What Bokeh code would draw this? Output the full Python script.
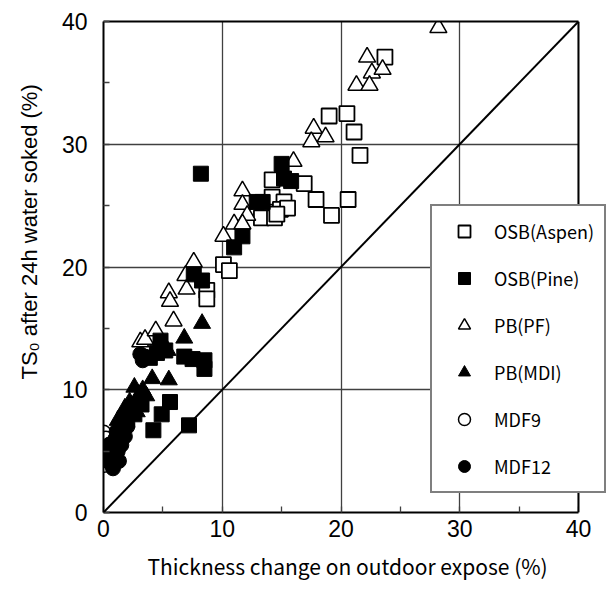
import math
from bokeh.plotting import figure
from bokeh.models import (Legend, LegendItem, SingleIntervalTicker, Range1d,
                          Slope, Span, BoxAnnotation, LinearAxis, FixedTicker, Title)
from bokeh.embed import file_html
from bokeh.resources import INLINE

# ---- data ----
osb_aspen_x = [23.7, 19.0, 20.5, 21.1, 21.6, 16.9, 17.9, 19.2, 20.6, 14.2, 14.2,
               15.2, 13.3, 14.4, 14.9, 10.1, 10.6, 8.7, 8.7, 15.5, 14.6]
osb_aspen_y = [37.1, 32.3, 32.5, 31.0, 29.1, 26.8, 25.5, 24.2, 25.5, 27.1, 25.7,
               25.3, 24.0, 24.0, 24.7, 20.2, 19.7, 18.1, 17.4, 24.8, 24.3]

osb_pine_x = [8.2, 15.0, 15.2, 15.8, 12.9, 13.4, 11.7, 11.0, 7.6, 8.3, 4.8, 5.2,
              6.8, 7.5, 8.5, 8.5, 5.6, 4.9, 4.2, 7.2, 3.9, 4.5, 2.0, 2.6, 3.2, 1.5]
osb_pine_y = [27.6, 28.4, 27.2, 27.0, 25.3, 25.3, 22.5, 21.6, 19.4, 18.9, 14.0, 13.2,
              12.7, 12.5, 12.4, 11.7, 9.0, 8.0, 6.7, 7.1, 12.6, 13.0, 7.5, 8.0, 8.8, 6.5]

pb_pf_x = [28.2, 22.2, 22.6, 23.5, 21.3, 22.4, 17.7, 18.7, 17.5, 16.0, 11.7, 11.7,
           12.1, 11.0, 11.7, 10.1, 7.6, 6.9, 7.0, 5.5, 5.6, 5.9, 3.1, 3.5, 4.4]
pb_pf_y = [39.5, 37.1, 35.8, 36.1, 34.8, 34.8, 31.3, 30.6, 30.2, 28.6, 26.2, 25.1,
           24.2, 23.5, 23.5, 22.5, 20.4, 19.3, 18.2, 17.9, 17.2, 15.6, 13.9, 14.1, 14.8]

pb_mdi_x = [2.6, 4.1, 5.5, 6.8, 8.3, 5.4, 1.8, 2.2, 3.0, 1.2, 2.8, 3.6, 1.5, 3.3]
pb_mdi_y = [10.2, 10.9, 10.8, 14.2, 15.4, 13.2, 8.5, 9.0, 9.6, 7.5, 8.2, 9.5, 6.8, 10.0]

mdf9_x = [0.0, 0.2, 0.0, 0.3, 0.1, 0.5]
mdf9_y = [6.5, 6.0, 5.1, 4.3, 3.9, 5.5]

mdf12_x = [0.6, 0.9, 1.2, 0.5, 1.0, 1.5, 0.8, 1.3, 1.8, 0.4, 1.1, 3.1, 3.5, 3.3, 2.0, 1.6]
mdf12_y = [4.0, 4.5, 5.0, 5.5, 6.0, 5.5, 3.6, 4.2, 6.2, 4.6, 6.6, 12.9, 12.7, 12.4, 7.0, 6.8]

series_labels = ["OSB(Aspen)", "OSB(Pine)", "PB(PF)", "PB(MDI)", "MDF9", "MDF12"]
x_title = "Thickness change on outdoor expose (%)"
y_title = "TS\u2080 after 24h water soked (%)"
axis_max = 40

# ---- figure ----
# frame runs to the window edge so the legend can overflow the x=40 border
frame_left, frame_right_40 = 103, 578
x_end = axis_max * (615 - frame_left) / (frame_right_40 - frame_left)
p = figure(width=615, height=590, output_backend="svg", toolbar_location=None,
           x_range=Range1d(0, x_end), y_range=Range1d(0, axis_max),
           min_border_left=frame_left, min_border_right=0,
           min_border_top=21, min_border_bottom=78)
p.background_fill_color = "white"
p.border_fill_color = "white"
p.outline_line_color = None

for ax, grid in ((p.xaxis, p.xgrid), (p.yaxis, p.ygrid)):
    t = SingleIntervalTicker(interval=10, num_minor_ticks=2)
    ax.ticker = t
    grid.ticker = t
    grid.grid_line_color = "#404040"
    grid.grid_line_width = 1.3
    ax.axis_line_color = "black"
    ax.axis_line_width = 2
    ax.major_tick_in = 0
    ax.major_tick_out = 0
    ax.minor_tick_in = 6
    ax.minor_tick_out = 0
    ax.minor_tick_line_color = "#404040"
    ax.minor_tick_line_width = 1.3
    ax.major_label_text_font = "Liberation Sans"
    ax.major_label_text_font_size = "23px"
    ax.major_label_text_color = "black"
    ax.bounds = (0, axis_max)

p.xaxis.major_label_standoff = 7
p.yaxis.major_label_standoff = 16

# top border line of the plot box (0..40 only)
top_axis = LinearAxis(ticker=FixedTicker(ticks=[]), bounds=(0, axis_max),
                      axis_line_color="black", axis_line_width=2,
                      major_tick_in=0, major_tick_out=0,
                      minor_tick_in=0, minor_tick_out=0,
                      major_label_text_font_size="0px", major_label_standoff=0)
p.add_layout(top_axis, "above")

# x axis title, left-anchored under the 0..40 box
p.add_layout(Title(text=x_title, align="left", offset=44,
                   text_font="Noto Sans CJK JP", text_font_size="21px",
                   text_font_style="normal", text_color="black",
                   standoff=19, vertical_align="bottom"), "below")

# y axis title, placed left of the tick labels
p.add_layout(Title(text=y_title, align="left", offset=133,
                   text_font="Liberation Sans", text_font_size="22px",
                   text_font_style="normal", text_color="black",
                   standoff=30, vertical_align="top"), "left")

# blank out everything right of x = 40 (the legend still overlays it)
p.add_layout(BoxAnnotation(left=axis_max, fill_color="white", fill_alpha=1.0,
                           line_color=None))
p.add_layout(Span(location=axis_max, dimension="height", line_color="black",
                  line_width=2))

p.add_layout(Slope(gradient=1, y_intercept=0, line_color="black", line_width=2))

r1 = p.scatter(osb_aspen_x, osb_aspen_y, marker="square", size=15,
               fill_color="white", line_color="black", line_width=1.8)
r3 = p.scatter(pb_pf_x, pb_pf_y, marker="triangle", size=17,
               fill_color="white", line_color="black", line_width=1.5)
r2 = p.scatter(osb_pine_x, osb_pine_y, marker="square", size=15,
               fill_color="black", line_color="black", line_width=1)
r4 = p.scatter(pb_mdi_x, pb_mdi_y, marker="triangle", size=17,
               fill_color="black", line_color="black", line_width=1)
r5 = p.scatter(mdf9_x, mdf9_y, marker="circle", size=15,
               fill_color="white", line_color="black", line_width=1.5)
r6 = p.scatter(mdf12_x, mdf12_y, marker="circle", size=15,
               fill_color="black", line_color="black", line_width=1)

items = [LegendItem(label=lab, renderers=[r])
         for lab, r in zip(series_labels, [r1, r2, r3, r4, r5, r6])]
legend = Legend(items=items, location=(327, 19), margin=0, padding=10,
                glyph_width=44, glyph_height=30, spacing=17, label_standoff=8,
                label_text_font="Noto Sans CJK JP", label_text_font_size="18px",
                label_text_color="black",
                border_line_color="black", border_line_width=2,
                background_fill_color="white", background_fill_alpha=1.0)
p.add_layout(legend)

open("out.html", "w").write(file_html(p, INLINE))
